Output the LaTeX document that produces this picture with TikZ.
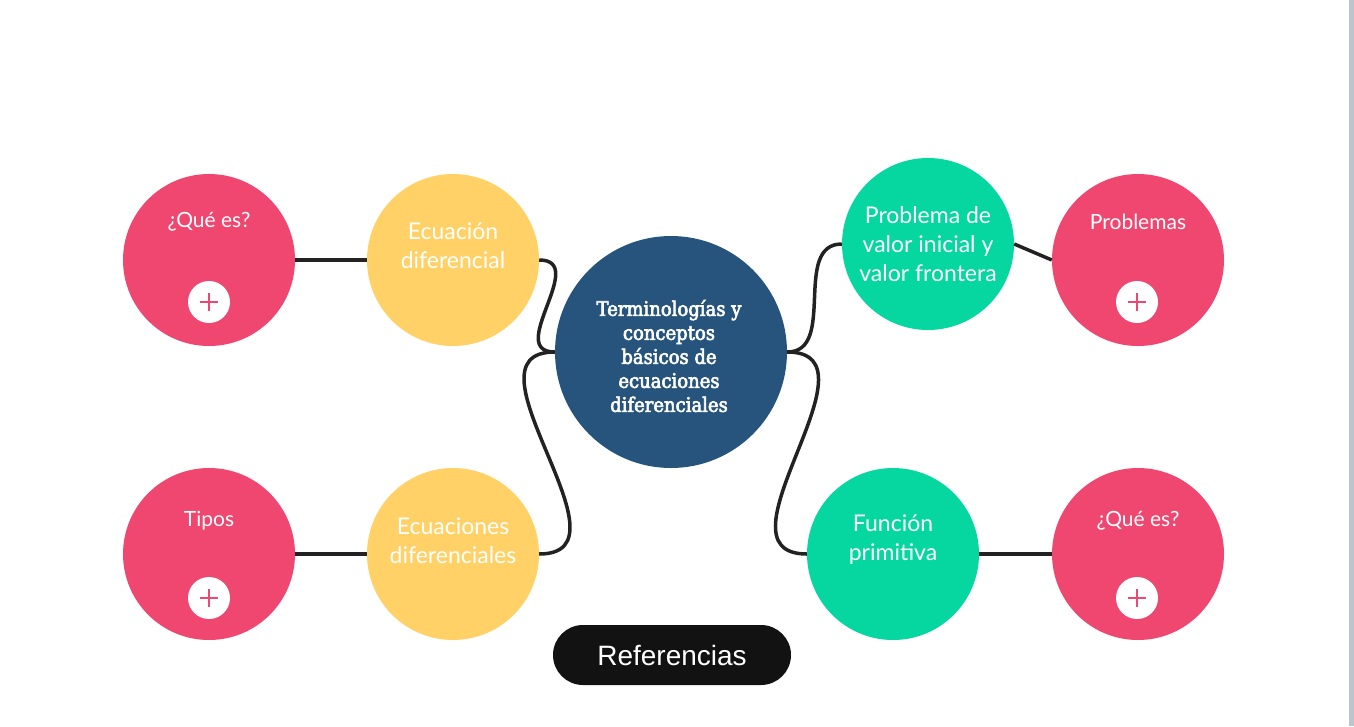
\documentclass[tikz,border=0pt]{standalone}
\usepackage{fontspec}
\setmainfont{Lato}
\newfontfamily\slabfont{DejaVu Serif}[FakeStretch=0.9,FakeBold=3]
\newfontfamily\pillfont{Liberation Sans}
\usepackage{tikz}
\definecolor{rosa}{HTML}{EF476F}
\definecolor{amarillo}{HTML}{FFD166}
\definecolor{verde}{HTML}{06D6A0}
\definecolor{azul}{HTML}{26547C}
\definecolor{linea}{HTML}{222222}
\definecolor{borde}{HTML}{BAC6CC}

\begin{document}
\begin{tikzpicture}[x=1pt,y=-1pt,
	burbuja/.style={circle,minimum size=172pt,inner sep=0pt},
	etiqueta/.style={text=white,align=center,font=\fontsize{23}{29}\selectfont},
	conector/.style={line width=3.5pt,color=linea}]
			%%%%% START %%%%%
			\useasboundingbox (0,0) rectangle (1354,726);
			\fill[borde] (1349,0) rectangle (1354,726);
			
			\node[burbuja,fill=azul,minimum size=232pt] (centro) at (671,352) {};
			\node[text=white,align=center,font=\slabfont\fontsize{20}{24}\selectfont] (tcentro) at (669,356) {Terminologías y\\conceptos\\básicos de\\ecuaciones\\diferenciales};
			
			\node[burbuja,fill=amarillo] (amar1) at (453,260) {};
			\node[etiqueta] (tamar1) at (453,246) {Ecuación\\diferencial};
			\node[burbuja,fill=amarillo] (amar2) at (453,554) {};
			\node[etiqueta] (tamar2) at (453,541) {Ecuaciones\\diferenciales};
			
			\node[burbuja,fill=verde] (verde1) at (928,244) {};
			\node[etiqueta] (tverde1) at (928,244) {Problema de\\valor inicial y\\valor frontera};
			\node[burbuja,fill=verde] (verde2) at (893,554) {};
			\node[etiqueta] (tverde2) at (893,540) {Función\\primitiva};
			
			\node[burbuja,fill=rosa] (rosa1) at (209,260) {};
			\node[etiqueta,font=\fontsize{21}{28}\selectfont] (trosa1) at (209,222) {¿Qué es?};
			\node[burbuja,fill=rosa] (rosa2) at (209,554) {};
			\node[etiqueta,font=\fontsize{21}{28}\selectfont] (trosa2) at (209,521) {Tipos};
			\node[burbuja,fill=rosa] (rosa3) at (1138,260) {};
			\node[etiqueta,font=\fontsize{21}{28}\selectfont] (trosa3) at (1138,222) {Problemas};
			\node[burbuja,fill=rosa] (rosa4) at (1138,554) {};
			\node[etiqueta,font=\fontsize{21}{28}\selectfont] (trosa4) at (1138,521) {¿Qué es?};
			
			\foreach \px/\py in {209/302,1137/302,209/598,1137/598}{
				\fill[white] (\px,\py) circle (21);
				\draw[rosa,line width=2.2pt] (\px-9,\py) -- (\px+9,\py) (\px,\py-9) -- (\px,\py+9);
			}
			
			\draw[conector] (rosa1.east) -- (amar1.west);
			\draw[conector] (rosa2.east) -- (amar2.west);
			\draw[conector] (amar1.east) .. controls +(50,0) and +(-50,0) .. (centro.west);
			\draw[conector] (centro.west) .. controls +(-100,0) and +(100,0) .. (amar2.east);
			\draw[conector] (centro.east) .. controls +(50,0) and +(-50,0) .. (verde1.west);
			\draw[conector] (centro.east) .. controls +(100,0) and +(-100,0) .. (verde2.west);
			\draw[conector] (verde1.east) -- (rosa3.west);
			\draw[conector] (verde2.east) -- (rosa4.west);
			
			\node[fill=black!93,rounded corners=30pt,minimum width=238pt,minimum height=60pt,text=white,font=\pillfont\fontsize{28}{32}\selectfont] (refs) at (672,655) {Referencias};
			%%%%% END %%%%%
\end{tikzpicture}
\end{document}
